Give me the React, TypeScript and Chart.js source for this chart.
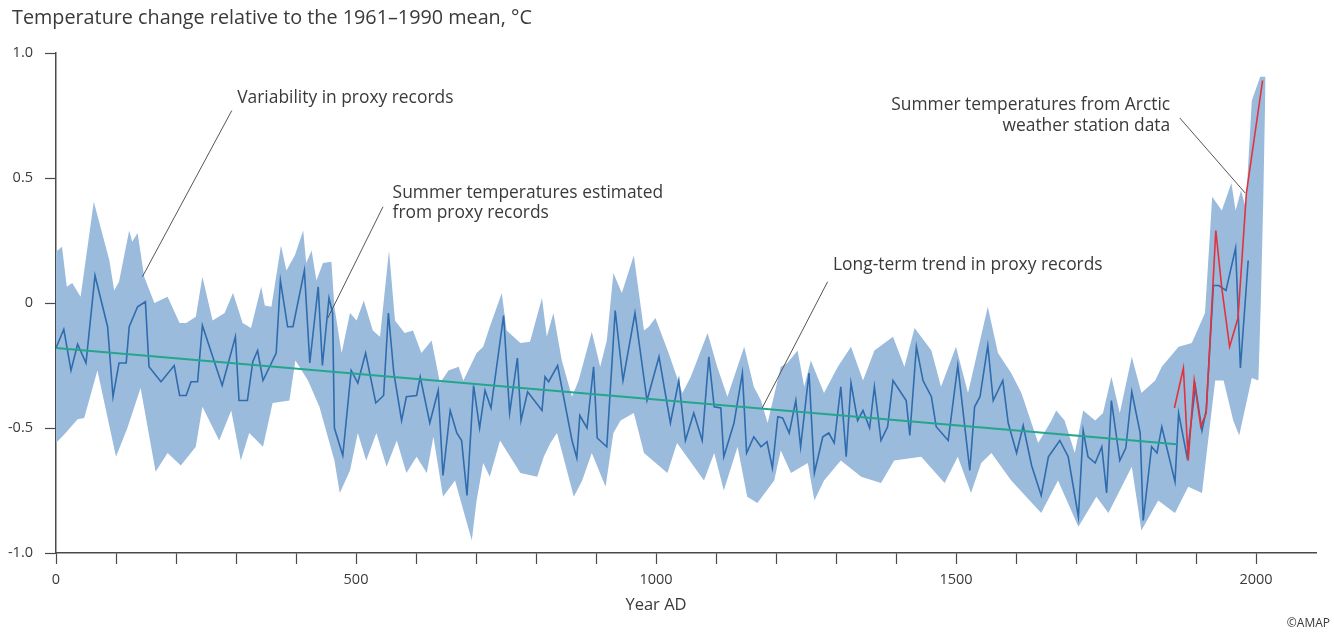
import React, { useEffect, useRef } from 'react';
import { Chart, registerables } from 'chart.js';

Chart.register(...registerables);

// ---------- data ----------
const proxyYears = [
  0, 13, 25, 36, 50, 65, 86, 95, 105, 117, 122, 136, 149, 155, 175, 197, 206, 217, 225, 236,
  244, 277, 299, 305, 319, 328, 336, 345, 367, 374, 386, 395, 414, 423, 437, 444, 455, 461, 464, 478,
  492, 503, 516, 533, 546, 554, 563, 576, 584, 601, 607, 623, 637, 645, 657, 668, 676, 685, 696, 706,
  715, 725, 746, 756, 769, 775, 786, 810, 815, 821, 836, 860, 868, 873, 885, 896, 902, 918, 932, 945,
  965, 985, 1005, 1024, 1038, 1049, 1063, 1077, 1088, 1097, 1108, 1113, 1130, 1144, 1151, 1163, 1175, 1185, 1194, 1203,
  1211, 1222, 1233, 1241, 1255, 1264, 1278, 1288, 1297, 1308, 1317, 1325, 1336, 1345, 1356, 1364, 1375, 1386, 1395, 1417,
  1423, 1434, 1445, 1459, 1467, 1487, 1503, 1523, 1531, 1540, 1553, 1562, 1578, 1587, 1601, 1612, 1626, 1642, 1654, 1673,
  1687, 1704, 1712, 1720, 1732, 1743, 1751, 1759, 1773, 1783, 1793, 1807, 1812, 1826, 1835, 1843, 1851, 1865, 1871, 1885,
  1899, 1910, 1917, 1929, 1938, 1950, 1966, 1974, 1987,
];
const proxyValues = [
  -0.18, -0.105, -0.27, -0.165, -0.24, 0.11, -0.095, -0.375, -0.24, -0.24, -0.095, -0.015, 0.005, -0.255, -0.315, -0.25, -0.37, -0.37, -0.315, -0.315,
  -0.09, -0.33, -0.135, -0.39, -0.39, -0.235, -0.19, -0.31, -0.2, 0.09, -0.095, -0.095, 0.13, -0.24, 0.065, -0.25, 0.02, -0.04, -0.5, -0.61,
  -0.27, -0.32, -0.2, -0.4, -0.37, -0.04, -0.28, -0.47, -0.375, -0.37, -0.295, -0.48, -0.35, -0.69, -0.43, -0.52, -0.55, -0.77, -0.33, -0.5,
  -0.35, -0.42, -0.05, -0.44, -0.22, -0.47, -0.355, -0.43, -0.295, -0.315, -0.25, -0.55, -0.62, -0.45, -0.5, -0.255, -0.54, -0.575, -0.03, -0.31,
  -0.04, -0.39, -0.215, -0.48, -0.31, -0.55, -0.44, -0.55, -0.215, -0.415, -0.42, -0.615, -0.48, -0.28, -0.6, -0.535, -0.575, -0.555, -0.66, -0.455,
  -0.46, -0.52, -0.39, -0.575, -0.28, -0.68, -0.535, -0.52, -0.56, -0.335, -0.615, -0.32, -0.47, -0.43, -0.5, -0.335, -0.55, -0.495, -0.31, -0.39,
  -0.53, -0.175, -0.31, -0.375, -0.495, -0.55, -0.25, -0.67, -0.415, -0.375, -0.17, -0.39, -0.31, -0.48, -0.6, -0.49, -0.65, -0.77, -0.615, -0.55,
  -0.615, -0.855, -0.51, -0.615, -0.64, -0.575, -0.76, -0.39, -0.63, -0.58, -0.355, -0.52, -0.87, -0.575, -0.6, -0.495, -0.575, -0.715, -0.44, -0.615,
  -0.335, -0.51, -0.43, 0.07, 0.07, 0.05, 0.22, -0.26, 0.17,
];

const upperYears = [
  0, 10, 18, 27, 41, 63, 89, 97, 105, 122, 127, 136, 147, 164, 186, 206, 217, 233, 244, 261,
  281, 295, 311, 325, 342, 348, 359, 375, 384, 398, 412, 417, 426, 434, 445, 459, 464, 476, 490, 501,
  513, 528, 540, 555, 565, 581, 595, 609, 626, 640, 654, 671, 679, 687, 701, 712, 723, 743, 751, 774,
  790, 810, 818, 829, 843, 860, 871, 893, 907, 918, 929, 943, 963, 980, 988, 999, 1021, 1044, 1058, 1086,
  1102, 1119, 1147, 1163, 1175, 1186, 1208, 1219, 1236, 1247, 1258, 1280, 1303, 1325, 1345, 1364, 1395, 1414, 1431, 1459,
  1475, 1500, 1520, 1553, 1570, 1592, 1609, 1637, 1659, 1667, 1681, 1698, 1712, 1732, 1745, 1759, 1773, 1793, 1809, 1832,
  1843, 1871, 1893, 1915, 1927, 1943, 1959, 1966, 1975, 1983, 1993, 2007, 2016,
];
const upperValues = [
  0.205, 0.225, 0.065, 0.08, 0.025, 0.405, 0.17, 0.05, 0.085, 0.29, 0.245, 0.28, 0.105, 0.0, 0.025, -0.08, -0.08, -0.055, 0.105, -0.07,
  -0.04, 0.04, -0.08, -0.1, 0.065, -0.01, -0.015, 0.23, 0.13, 0.19, 0.29, 0.16, 0.21, 0.09, 0.16, 0.165, -0.015, -0.2, -0.04, -0.07,
  0.01, -0.11, -0.135, 0.21, -0.07, -0.12, -0.11, -0.2, -0.15, -0.32, -0.27, -0.255, -0.31, -0.27, -0.2, -0.175, -0.095, 0.04, -0.11, -0.16,
  -0.155, 0.02, -0.135, -0.04, -0.23, -0.375, -0.31, -0.115, -0.255, -0.15, 0.12, 0.04, 0.19, -0.11, -0.095, -0.06, -0.2, -0.36, -0.295, -0.12,
  -0.255, -0.375, -0.175, -0.335, -0.39, -0.48, -0.255, -0.24, -0.19, -0.335, -0.23, -0.36, -0.255, -0.175, -0.31, -0.19, -0.135, -0.255, -0.1, -0.19,
  -0.335, -0.175, -0.36, -0.015, -0.2, -0.28, -0.36, -0.56, -0.47, -0.43, -0.47, -0.6, -0.43, -0.47, -0.44, -0.295, -0.44, -0.215, -0.36, -0.31,
  -0.255, -0.175, -0.16, -0.04, 0.425, 0.37, 0.48, 0.37, 0.45, 0.38, 0.81, 0.905, 0.905,
];

const lowerYears = [
  0, 16, 36, 47, 69, 100, 119, 141, 166, 186, 208, 233, 244, 272, 292, 308, 322, 345, 361, 389,
  399, 420, 439, 464, 473, 490, 503, 517, 534, 551, 568, 584, 601, 618, 629, 645, 665, 693, 701, 712,
  723, 740, 774, 802, 813, 824, 835, 863, 877, 893, 916, 929, 941, 963, 980, 1019, 1035, 1080, 1097, 1113,
  1136, 1152, 1169, 1197, 1208, 1225, 1253, 1264, 1280, 1308, 1342, 1375, 1397, 1442, 1481, 1503, 1525, 1542, 1559, 1592,
  1642, 1670, 1704, 1734, 1754, 1793, 1809, 1837, 1865, 1887, 1910, 1932, 1946, 1962, 1972, 1993, 2004, 2008, 2012, 2016,
];
const lowerValues = [
  -0.56, -0.52, -0.465, -0.46, -0.27, -0.615, -0.5, -0.34, -0.675, -0.6, -0.65, -0.575, -0.415, -0.55, -0.43, -0.63, -0.52, -0.575, -0.4, -0.39,
  -0.23, -0.31, -0.415, -0.63, -0.76, -0.67, -0.52, -0.63, -0.52, -0.655, -0.55, -0.68, -0.615, -0.68, -0.535, -0.775, -0.71, -0.95, -0.79, -0.64,
  -0.695, -0.55, -0.68, -0.695, -0.615, -0.56, -0.52, -0.775, -0.71, -0.6, -0.735, -0.52, -0.47, -0.44, -0.6, -0.68, -0.56, -0.71, -0.6, -0.75,
  -0.575, -0.775, -0.8, -0.71, -0.59, -0.68, -0.64, -0.79, -0.71, -0.63, -0.695, -0.72, -0.63, -0.615, -0.72, -0.615, -0.76, -0.64, -0.6, -0.71,
  -0.84, -0.71, -0.895, -0.775, -0.84, -0.655, -0.91, -0.79, -0.84, -0.735, -0.76, -0.31, -0.31, -0.47, -0.53, -0.3, -0.31, 0.0, 0.4, 0.905,
];

const stationYears = [1864, 1879, 1887, 1897, 1908, 1917, 1933, 1943, 1956, 1970, 1984, 2011];
const stationValues = [-0.42, -0.26, -0.63, -0.31, -0.495, -0.44, 0.29, 0.06, -0.175, -0.06, 0.44, 0.89];

const trendYears = [0, 1868];
const trendValues = [-0.18, -0.565];

const yTicks = [-1, -0.5, 0, 0.5, 1];
const xLabelYears = [0, 500, 1000, 1500, 2000];

const TITLE = 'Temperature change relative to the 1961\u20131990 mean, \u00B0C';
const X_TITLE = 'Year AD';
const CREDIT = '\u00A9AMAP';

const notes = [
  { lines: ['Variability in proxy records'], at: [302, 0.82], align: 'left', from: [293, 0.77], to: [144, 0.105] },
  { lines: ['Summer temperatures estimated', 'from proxy records'], at: [561, 0.44], align: 'left', from: [545, 0.385], to: [453, -0.06] },
  { lines: ['Long-term trend in proxy records'], at: [1295, 0.15], align: 'left', from: [1286, 0.085], to: [1177, -0.42] },
  { lines: ['Summer temperatures from Arctic', 'weather station data'], at: [1857, 0.79], align: 'right', from: [1873, 0.74], to: [1982, 0.44] },
];

// ---------- styles ----------
const FONT = '"Open Sans", "Noto Sans", sans-serif';
const TEXT = '#3a3a3a';
const AXIS = '#4a4a4a';
const BAND = '#9bbbdc';
const BLUE = '#2f6cae';
const RED = '#e2323c';
const GREEN = '#23a68c';

const pts = (xs: number[], ys: number[]) => xs.map((x, i) => ({ x, y: ys[i] }));

const textPlugin = {
  id: 'notes',
  afterDraw(chart: any) {
    const { ctx, chartArea } = chart;
    const xs = chart.scales.x;
    const ys = chart.scales.y;
    ctx.save();
    ctx.fillStyle = TEXT;
    ctx.textBaseline = 'middle';
    // title
    ctx.font = `19.8px ${FONT}`;
    ctx.textAlign = 'left';
    ctx.fillText(TITLE, 12, chartArea.top - 35);
    // x title
    ctx.font = `16.5px ${FONT}`;
    ctx.textAlign = 'center';
    ctx.fillText(X_TITLE, xs.getPixelForValue(1000), chartArea.bottom + 52);
    // credit
    ctx.font = `12px ${FONT}`;
    ctx.textAlign = 'right';
    ctx.fillText(CREDIT, chart.width - 4, chart.height - 10);
    // annotations
    ctx.font = `17.4px ${FONT}`;
    for (const n of notes) {
      ctx.textAlign = n.align as CanvasTextAlign;
      const tx = xs.getPixelForValue(n.at[0]);
      const ty = ys.getPixelForValue(n.at[1]);
      n.lines.forEach((l, i) => ctx.fillText(l, tx, ty + i * 20.5));
      ctx.beginPath();
      ctx.strokeStyle = '#555';
      ctx.lineWidth = 1;
      ctx.moveTo(xs.getPixelForValue(n.from[0]), ys.getPixelForValue(n.from[1]));
      ctx.lineTo(xs.getPixelForValue(n.to[0]), ys.getPixelForValue(n.to[1]));
      ctx.stroke();
    }
    ctx.restore();
  },
};

export default function App() {
  const ref = useRef<HTMLCanvasElement>(null);
  useEffect(() => {
    document.body.style.margin = '0';
    const canvas = ref.current!;
    const chart = new Chart(canvas, {
      type: 'line',
      data: {
        datasets: [
          {
            label: 'lower',
            data: pts(lowerYears, lowerValues),
            borderWidth: 0,
            borderColor: 'transparent',
            pointRadius: 0,
            fill: false,
            order: 10,
          },
          {
            label: 'upper',
            data: pts(upperYears, upperValues),
            borderWidth: 0,
            borderColor: 'transparent',
            backgroundColor: BAND,
            pointRadius: 0,
            fill: '-1',
            order: 9,
          },
          {
            label: 'proxy',
            data: pts(proxyYears, proxyValues),
            borderColor: BLUE,
            borderWidth: 1.6,
            pointRadius: 0,
            fill: false,
            order: 3,
          },
          {
            label: 'trend',
            data: pts(trendYears, trendValues),
            borderColor: GREEN,
            borderWidth: 1.8,
            pointRadius: 0,
            fill: false,
            order: 2,
          },
          {
            label: 'station',
            data: pts(stationYears, stationValues),
            borderColor: RED,
            borderWidth: 1.6,
            pointRadius: 0,
            fill: false,
            order: 1,
          },
        ],
      },
      options: {
        animation: false,
        responsive: false,
        events: [],
        layout: { padding: { left: 0, right: 18, top: 53, bottom: 0 } },
        plugins: { legend: { display: false }, tooltip: { enabled: false }, title: { display: false } },
        scales: {
          x: {
            type: 'linear',
            min: 0,
            max: 2100,
            afterFit: (s: any) => { s.height = 81; },
            afterBuildTicks: (s: any) => {
              const t = [];
              for (let v = 0; v <= 2100; v += 100) t.push({ value: v });
              s.ticks = t;
            },
            border: { display: true, color: AXIS, width: 1.5 },
            grid: {
              drawOnChartArea: false,
              drawTicks: true,
              tickLength: 11,
              tickWidth: 1.2,
              tickColor: (c: any) => (c.tick && c.tick.value === 2100 ? 'transparent' : AXIS),
            },
            ticks: {
              autoSkip: false,
              maxRotation: 0,
              padding: 7,
              color: TEXT,
              font: { family: FONT, size: 14.5 },
              callback: (v: any) => (xLabelYears.includes(Number(v)) ? String(v) : ''),
            },
          },
          y: {
            type: 'linear',
            min: -1,
            max: 1,
            afterFit: (s: any) => { s.width = 56; },
            afterBuildTicks: (s: any) => { s.ticks = yTicks.map((v) => ({ value: v })); },
            border: { display: true, color: AXIS, width: 1.5 },
            grid: {
              drawOnChartArea: false,
              drawTicks: true,
              tickLength: 11,
              tickWidth: 1.2,
              tickColor: AXIS,
            },
            ticks: {
              padding: 12,
              color: TEXT,
              font: { family: FONT, size: 14.5 },
              callback: (v: any) => (Number(v) === 0 ? '0' : Number(v).toFixed(1)),
            },
          },
        },
      },
      plugins: [textPlugin],
    });
    return () => chart.destroy();
  }, []);
  return (
    <div style={{ width: 1334, height: 634, background: '#fff' }}>
      <canvas ref={ref} width={1334} height={634} style={{ display: 'block' }} />
    </div>
  );
}
